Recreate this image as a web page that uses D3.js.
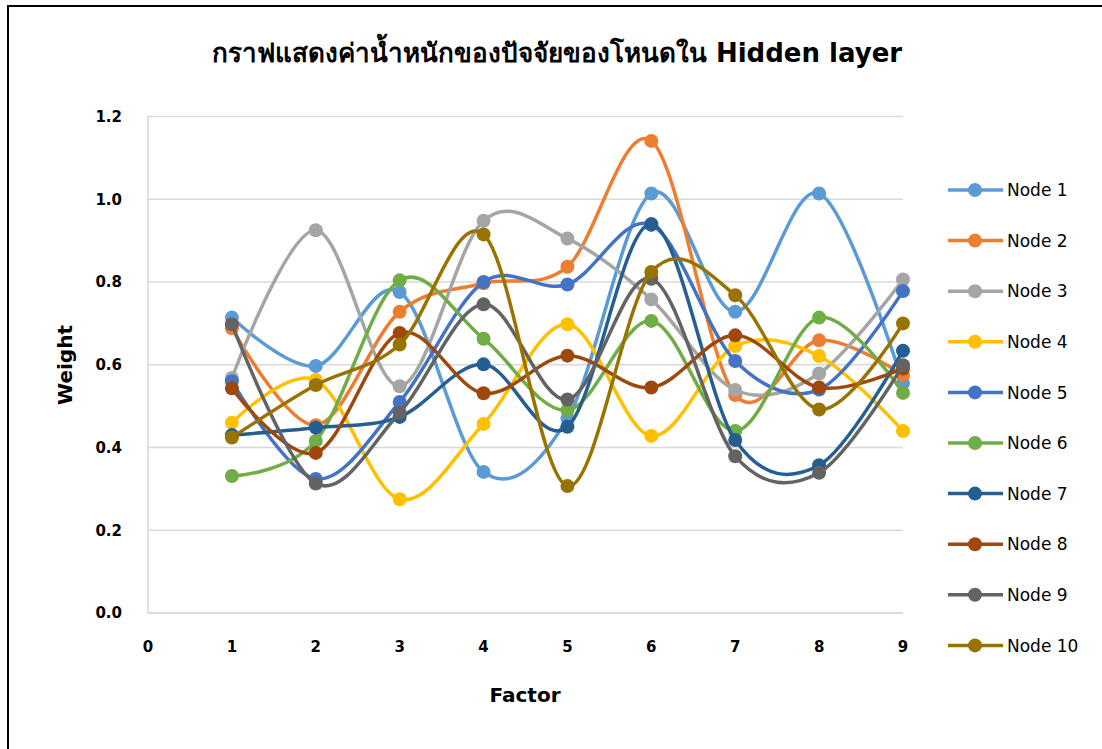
<!DOCTYPE html>
<html>
<head>
<meta charset="utf-8">
<script src="https://cdn.jsdelivr.net/npm/d3@7"></script>
<style>
  html, body { margin: 0; padding: 0; background: #fff; }
  svg { display: block; }
  text { font-family: Tahoma, "DejaVu Sans", "Noto Sans", sans-serif; fill: #000; }
</style>
</head>
<body>
<svg id="chart" width="1102" height="749"></svg>
<script>
// Factor indices on the x axis
const factors = [1, 2, 3, 4, 5, 6, 7, 8, 9];
const xTicks = [0, 1, 2, 3, 4, 5, 6, 7, 8, 9];
const yTicks = [0, 0.2, 0.4, 0.6, 0.8, 1.0, 1.2];

const seriesNames = ["Node 1", "Node 2", "Node 3", "Node 4", "Node 5",
                     "Node 6", "Node 7", "Node 8", "Node 9", "Node 10"];
const seriesColors = ["#5B9BD5", "#ED7D31", "#A5A5A5", "#FFC000", "#4472C4",
                      "#70AD47", "#255E91", "#9E480E", "#636363", "#997300"];

// Hidden-layer weights per node, one value per factor
const node1  = [0.714, 0.597, 0.776, 0.341, 0.470, 1.014, 0.728, 1.014, 0.555];
const node2  = [0.688, 0.454, 0.728, 0.797, 0.837, 1.141, 0.527, 0.659, 0.575];
const node3  = [0.568, 0.925, 0.548, 0.948, 0.905, 0.758, 0.539, 0.579, 0.806];
const node4  = [0.460, 0.563, 0.275, 0.457, 0.698, 0.428, 0.645, 0.621, 0.440];
const node5  = [0.560, 0.324, 0.510, 0.800, 0.794, 0.938, 0.609, 0.540, 0.778];
const node6  = [0.331, 0.416, 0.804, 0.663, 0.490, 0.706, 0.440, 0.714, 0.532];
const node7  = [0.430, 0.448, 0.474, 0.601, 0.450, 0.940, 0.418, 0.357, 0.634];
const node8  = [0.543, 0.387, 0.677, 0.531, 0.622, 0.545, 0.671, 0.545, 0.591];
const node9  = [0.698, 0.313, 0.484, 0.746, 0.516, 0.808, 0.379, 0.339, 0.599];
const node10 = [0.424, 0.551, 0.649, 0.915, 0.307, 0.824, 0.768, 0.492, 0.700];

const seriesValues = [node1, node2, node3, node4, node5, node6, node7, node8, node9, node10];

const svg = d3.select("#chart");

// Outer chart frame
svg.append("rect")
  .attr("x", 8).attr("y", 6).attr("width", 1110).attr("height", 760)
  .attr("fill", "none").attr("stroke", "#000").attr("stroke-width", 2);

const x = d3.scaleLinear().domain([0, 9]).range([148, 903]);
const y = d3.scaleLinear().domain([0, 1.2]).range([613, 116.5]);

// Horizontal gridlines
svg.append("g")
  .selectAll("line")
  .data(yTicks.filter(d => d > 0))
  .join("line")
  .attr("x1", x(0)).attr("x2", x(9))
  .attr("y1", d => y(d)).attr("y2", d => y(d))
  .attr("stroke", "#D9D9D9").attr("stroke-width", 1.3);

// Axis lines
svg.append("line")
  .attr("x1", x(0)).attr("x2", x(0)).attr("y1", y(0)).attr("y2", y(1.2))
  .attr("stroke", "#D0D0D0").attr("stroke-width", 1.3);
svg.append("line")
  .attr("x1", x(0)).attr("x2", x(9)).attr("y1", y(0)).attr("y2", y(0))
  .attr("stroke", "#D0D0D0").attr("stroke-width", 1.3);

// Y tick labels
svg.append("g")
  .selectAll("text")
  .data(yTicks)
  .join("text")
  .attr("x", 122).attr("y", d => y(d))
  .attr("dy", "0.36em")
  .attr("text-anchor", "end")
  .attr("font-size", 15).attr("font-weight", "bold")
  .attr("fill", "#1a1a1a")
  .text(d => d3.format(".1f")(d));

// X tick labels
svg.append("g")
  .selectAll("text")
  .data(xTicks)
  .join("text")
  .attr("x", d => x(d)).attr("y", 652)
  .attr("text-anchor", "middle")
  .attr("font-size", 15).attr("font-weight", "bold")
  .attr("fill", "#1a1a1a")
  .text(d => d);

// Title and axis titles
svg.append("text")
  .attr("x", 557).attr("y", 62)
  .attr("text-anchor", "middle")
  .attr("font-size", 26).attr("font-weight", "bold")
  .text("กราฟแสดงค่าน้ำหนักของปัจจัยของโหนดใน Hidden layer");

svg.append("text")
  .attr("transform", "translate(72,365) rotate(-90)")
  .attr("text-anchor", "middle")
  .attr("font-size", 20).attr("font-weight", "bold")
  .text("Weight");

svg.append("text")
  .attr("x", 525).attr("y", 702)
  .attr("text-anchor", "middle")
  .attr("font-size", 20).attr("font-weight", "bold")
  .text("Factor");

// Smoothed series lines with markers
const line = d3.line()
  .x((d, i) => x(factors[i]))
  .y(d => y(d))
  .curve(d3.curveCardinal.tension(0));

const series = svg.append("g")
  .selectAll("g")
  .data(seriesValues.map((v, i) => ({ name: seriesNames[i], color: seriesColors[i], values: v })))
  .join("g");

series.append("path")
  .attr("d", d => line(d.values))
  .attr("fill", "none")
  .attr("stroke", d => d.color)
  .attr("stroke-width", 3.5)
  .attr("stroke-linejoin", "round");

series.selectAll("circle")
  .data(d => d.values.map((v, i) => ({ v, i, color: d.color })))
  .join("circle")
  .attr("cx", d => x(factors[d.i]))
  .attr("cy", d => y(d.v))
  .attr("r", 7)
  .attr("fill", d => d.color);

// Legend
const legend = svg.append("g")
  .selectAll("g")
  .data(seriesNames)
  .join("g")
  .attr("transform", (d, i) => `translate(948, ${190 + i * 50.6})`);

legend.append("line")
  .attr("x1", 0).attr("x2", 55).attr("y1", 0).attr("y2", 0)
  .attr("stroke", (d, i) => seriesColors[i]).attr("stroke-width", 3.5);
legend.append("circle")
  .attr("cx", 27).attr("cy", 0).attr("r", 7)
  .attr("fill", (d, i) => seriesColors[i]);
legend.append("text")
  .attr("x", 59).attr("y", 0).attr("dy", "0.36em")
  .attr("font-size", 17)
  .attr("fill", "#1a1a1a")
  .text(d => d);
</script>
</body>
</html>
